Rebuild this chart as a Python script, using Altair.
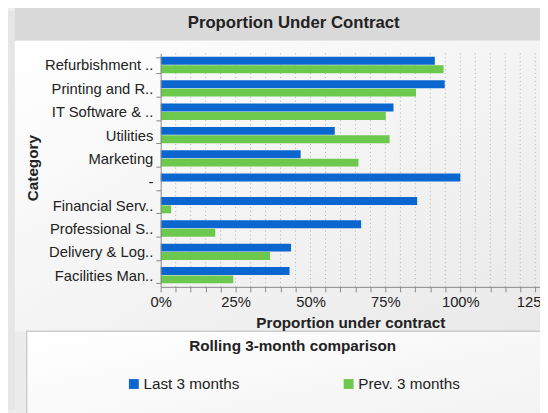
import altair as alt
import pandas as pd

categories = ["Refurbishment ..", "Printing and R..", "IT Software & ..", "Utilities",
              "Marketing", "-", "Financial Serv..", "Professional S..",
              "Delivery & Log..", "Facilities Man.."]
last3 = [0.915, 0.948, 0.777, 0.581, 0.467, 1.0, 0.856, 0.669, 0.435, 0.43]
prev3 = [0.944, 0.852, 0.751, 0.764, 0.66, None, 0.035, 0.182, 0.365, 0.242]
series = ["Last 3 months", "Prev. 3 months"]
colors = ["#0b67cf", "#6dc84e"]
x_ticks = [round(i * 0.05, 2) for i in range(26)]
chart_title = "Proportion Under Contract"

rows = []
for c, a, b in zip(categories, last3, prev3):
    if a is not None:
        rows.append({"Category": c, "Series": series[0], "Value": a})
    if b is not None:
        rows.append({"Category": c, "Series": series[1], "Value": b})
df = pd.DataFrame(rows)
grid_df = pd.DataFrame({"Value": x_ticks[1:]})
one = pd.DataFrame({"k": [0]})
FONT = "Liberation Sans"
H = 237

strip = alt.Chart(one).mark_rect(color="#e6e6e6").encode(
    x=alt.value(-155), x2=alt.value(-148), y=alt.value(-43), y2=alt.value(362))

panel = alt.Chart(one).mark_rect(
    color=alt.Gradient(gradient="linear", x1=0, y1=0, x2=1, y2=1,
                       stops=[alt.GradientStop(color="#ffffff", offset=0),
                              alt.GradientStop(color="#e9e9e9", offset=1)])
).encode(x=alt.value(-148), x2=alt.value(385), y=alt.value(-13), y2=alt.value(282))

titlebar = alt.Chart(one).mark_rect(color="#d9d9d9").encode(
    x=alt.value(-148), x2=alt.value(385), y=alt.value(-48), y2=alt.value(-13))

legbox = alt.Chart(one).mark_rect(
    color=alt.Gradient(gradient="linear", x1=0, y1=0, x2=1, y2=1,
                       stops=[alt.GradientStop(color="#ffffff", offset=0),
                              alt.GradientStop(color="#f1f1f1", offset=1)]),
    stroke="#cccccc", strokeWidth=1.5
).encode(x=alt.value(-136), x2=alt.value(400), y=alt.value(282), y2=alt.value(392))

title_text = alt.Chart(one).mark_text(
    font=FONT, fontSize=17, fontWeight="bold", color="#222222",
    align="center", baseline="middle"
).encode(x=alt.value(135), y=alt.value(-31), text=alt.value(chart_title))

xscale = alt.Scale(domain=[0, 1.266], nice=False)
x_axis = alt.Axis(values=x_ticks, grid=False, zindex=2,
                  labelExpr="(round(datum.value*100) % 25 == 0) ? round(datum.value*100) + '%' : ''",
                  domainColor="#888888", tickColor="#888888", tickSize=5,
                  labelFont=FONT, labelFontSize=15, labelColor="#222222",
                  labelPadding=3, labelFlush=False, labelOverlap=False,
                  title="Proportion under contract",
                  titleFont=FONT, titleFontSize=15.5, titleFontWeight="bold",
                  titleColor="#222222", titlePadding=6)

grid = alt.Chart(grid_df).mark_rule(color="#b0b0b0", strokeDash=[1, 3], strokeWidth=1).encode(
    x=alt.X("Value:Q", scale=xscale, axis=x_axis),
    y=alt.value(0), y2=alt.value(H))

bars = alt.Chart(df).mark_bar().encode(
    y=alt.Y("Category:N", sort=categories,
            scale=alt.Scale(paddingInner=0.3, paddingOuter=0.15),
            axis=alt.Axis(title="Category", tickBand="extent", zindex=2,
                          domainColor="#888888", tickColor="#888888", tickSize=5,
                          labelFont=FONT, labelFontSize=15, labelColor="#222222",
                          labelPadding=3,
                          titleFont=FONT, titleFontSize=15.5, titleFontWeight="bold",
                          titleColor="#222222", titleX=-130, titleY=116,
                          titleAngle=-90, titleAlign="center", titleBaseline="middle")),
    x=alt.X("Value:Q", scale=xscale, axis=x_axis),
    yOffset=alt.YOffset("Series:N", sort=series, scale=alt.Scale(paddingInner=0.06)),
    color=alt.Color("Series:N", sort=series,
                    scale=alt.Scale(domain=series, range=colors),
                    legend=alt.Legend(orient="none", legendX=-35, legendY=290,
                                      direction="horizontal", columns=2,
                                      gridAlign="all", columnPadding=97,
                                      symbolType="square", symbolSize=100,
                                      symbolStrokeWidth=0, padding=0,
                                      labelFont=FONT, labelFontSize=15.5,
                                      labelColor="#222222", labelOffset=2,
                                      title="Rolling 3-month comparison",
                                      titleFont=FONT, titleFontSize=15.5,
                                      titleFontWeight="bold", titleColor="#222222",
                                      titleAnchor="middle", titlePadding=22,
                                      titleLimit=400, labelLimit=300)),
)

chart = alt.layer(strip, panel, titlebar, legbox, title_text, grid, bars).properties(
    width=385, height=H,
    autosize=alt.AutoSizeParams(type="none"),
    padding={"left": 155, "top": 43, "right": 0, "bottom": 405 - 43 - H},
    background="#ececec",
).configure_view(stroke=None, fill=None)

chart.save("out.html", embed_options={"renderer": "svg", "actions": False})
